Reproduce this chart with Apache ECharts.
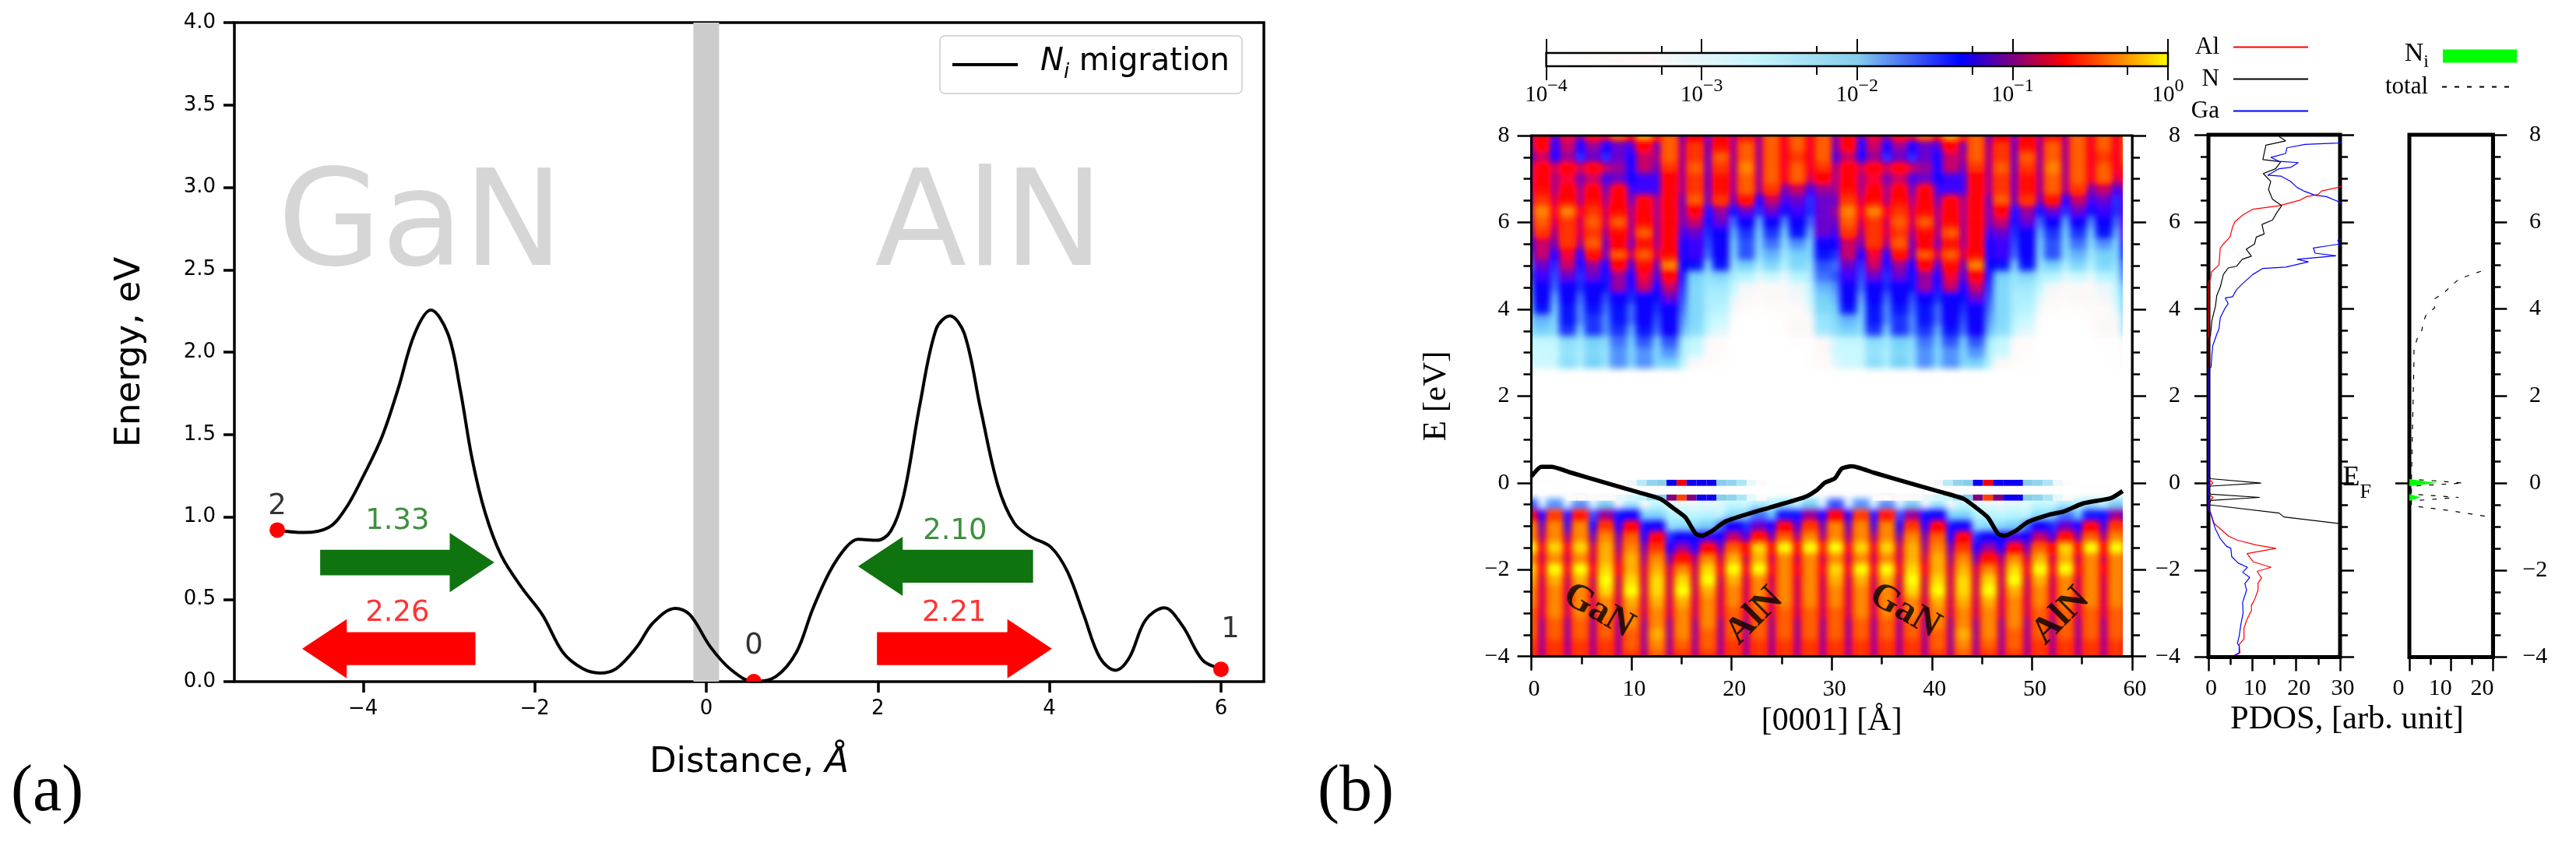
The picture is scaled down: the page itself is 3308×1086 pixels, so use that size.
<!DOCTYPE html>
<html>
<head>
<meta charset="utf-8">
<title>Ni migration and LDOS</title>
<script src="https://cdn.jsdelivr.net/npm/echarts@6/dist/echarts.min.js"></script>
<style>
  html, body { margin: 0; padding: 0; background: #fff; }
  #heatClip { position: absolute; left: 1966.5px; top: 174px; width: 759.5px; height: 668.7px; overflow: hidden; }
  #heat { position: absolute; left: -40px; top: -40px; width: 839.5px; height: 748.7px; filter: blur(4.5px) saturate(1.3); }
  #main { position: absolute; left: 0; top: 0; width: 3308px; height: 1086px; }
</style>
</head>
<body>
<div id="heatClip"><div id="heat"></div></div>
<div id="main"></div>
<script>
// panel (a): migration path
var migrationPath = [
  [-5, 0.92], [-4.69, 0.905], [-4.4, 0.936], [-4.21, 1.045], [-4.02, 1.224], [-3.78, 1.486], [-3.59, 1.78],
  [-3.4, 2.11], [-3.21, 2.255], [-3.01, 2.11], [-2.87, 1.78], [-2.73, 1.355], [-2.58, 1.03], [-2.39, 0.766],
  [-2.15, 0.57], [-1.91, 0.406], [-1.67, 0.177], [-1.44, 0.079], [-1.24, 0.052], [-1.05, 0.079], [-0.81, 0.21],
  [-0.62, 0.357], [-0.36, 0.445], [-0.19, 0.406], [0.05, 0.21], [0.29, 0.072], [0.555, 0], [0.81, 0.03],
  [1.05, 0.177], [1.24, 0.439], [1.44, 0.668], [1.63, 0.815], [1.77, 0.864], [1.99, 0.858], [2.15, 0.913],
  [2.3, 1.126], [2.49, 1.68], [2.68, 2.14], [2.84, 2.22], [3.01, 2.11], [3.2, 1.65], [3.4, 1.19], [3.59, 0.962],
  [3.78, 0.88], [4.02, 0.815], [4.21, 0.668], [4.4, 0.406], [4.59, 0.144], [4.77, 0.069], [4.93, 0.144],
  [5.12, 0.373], [5.34, 0.448], [5.55, 0.34], [5.79, 0.128], [6, 0.079]
];
var stablePoints = [[-5, 0.92], [0.555, 0], [6, 0.075]];
var pointLabels = [[-5, 1.064, '2'], [0.555, 0.217, '0'], [6.11, 0.317, '1']];
var interfaceBand = [-0.15, 0.15];
var distanceTicks = [-4, -2, 0, 2, 4, 6];
var materialLabels = [[-3.33, 2.74, 'GaN'], [3.3, 2.74, 'AlN']];

// tail x, tip x, y, body thickness
var greenArrows = [[-4.5, -2.47, 0.723, 0.155], [3.81, 1.77, 0.7, 0.2]];
var redArrows = [[-2.69, -4.71, 0.2, 0.2], [1.99, 4.03, 0.2, 0.2]];
var greenBarriers = [[-3.6, 0.97, '1.33'], [2.9, 0.912, '2.10']];
var redBarriers = [[-3.6, 0.416, '2.26'], [2.89, 0.416, '2.21']];

// panel (b): log10(LDOS) x 10, stripe and gap columns 1.275 A apart, one row per 0.25 eV
var ldosUpper = [ // 8.00 .. 2.75 eV, stripes on even columns
  [-7,-12,-8,-11,-7,-8,-4,-7,-2,-6,-4,-11,-7,-11,-7,-10,-6,-10,-4,-8,-4,-8,-4,-11],
  [-7,-13,-9,-13,-10,-13,-11,-12,-7,-11,-4,-10,-5,-11,-6,-10,-4,-10,-4,-8,-4,-8,-4,-11],
  [-9,-13,-10,-15,-11,-15,-11,-13,-9,-10,-4,-10,-5,-11,-4,-10,-4,-10,-4,-8,-5,-8,-4,-12],
  [-7,-9,-7,-9,-7,-9,-10,-13,-9,-11,-5,-10,-4,-11,-5,-10,-3,-10,-4,-8,-4,-8,-5,-10],
  [-7,-10,-8,-11,-9,-12,-11,-13,-12,-12,-7,-10,-5,-11,-6,-10,-4,-10,-4,-8,-4,-9,-7,-10],
  [-6,-10,-7,-10,-7,-11,-7,-12,-12,-12,-7,-10,-5,-11,-6,-10,-4,-10,-5,-11,-9,-12,-10,-10],
  [-5,-9,-6,-10,-6,-10,-7,-11,-7,-10,-7,-11,-4,-11,-5,-11,-6,-13,-9,-12,-11,-15,-11,-11],
  [-3,-8,-3,-8,-5,-9,-6,-10,-7,-10,-7,-11,-7,-14,-10,-14,-11,-15,-11,-14,-12,-15,-11,-10],
  [-4,-9,-5,-9,-4,-9,-4,-10,-6,-10,-7,-11,-9,-14,-11,-17,-13,-19,-13,-18,-13,-17,-11,-11],
  [-5,-10,-5,-9,-5,-10,-6,-10,-4,-10,-7,-12,-11,-15,-13,-19,-15,-20,-15,-20,-14,-19,-11,-12],
  [-9,-11,-5,-10,-4,-11,-7,-11,-6,-10,-7,-13,-12,-16,-13,-20,-16,-21,-17,-22,-18,-21,-13,-13],
  [-9,-13,-8,-13,-6,-11,-4,-9,-4,-9,-6,-13,-12,-17,-13,-21,-16,-22,-19,-24,-20,-21,-14,-15],
  [-11,-15,-9,-14,-10,-13,-7,-12,-6,-11,-3,-13,-14,-21,-14,-23,-20,-25,-21,-26,-21,-23,-16,-17],
  [-12,-16,-11,-15,-11,-14,-10,-13,-8,-12,-7,-14,-20,-23,-21,-25,-26,-30,-28,-31,-26,-25,-17,-16],
  [-13,-17,-13,-15,-13,-14,-10,-14,-9,-13,-9,-15,-21,-24,-24,-27,-32,-33,-33,-33,-31,-27,-19,-18],
  [-13,-19,-13,-17,-13,-16,-13,-15,-13,-14,-11,-16,-21,-25,-25,-30,-33,-35,-33,-33,-32,-28,-20,-19],
  [-14,-20,-14,-18,-14,-17,-14,-17,-13,-15,-13,-17,-21,-25,-26,-32,-36,-38,-36,-35,-34,-30,-21,-20],
  [-19,-21,-14,-18,-15,-18,-14,-17,-13,-16,-13,-18,-21,-26,-28,-35,-40,-40,-40,-36,-33,-33,-23,-21],
  [-20,-22,-15,-20,-15,-18,-15,-19,-14,-17,-13,-19,-22,-27,-30,-38,-40,-40,-40,-37,-33,-33,-24,-22],
  [-27,-27,-22,-24,-20,-22,-17,-20,-16,-20,-16,-24,-27,-33,-36,-40,-40,-40,-40,-40,-38,-38,-33,-28],
  [-28,-28,-23,-25,-21,-23,-18,-21,-18,-21,-18,-25,-28,-34,-36,-40,-40,-40,-40,-40,-40,-38,-33,-28],
  [-28,-28,-22,-25,-20,-23,-18,-21,-18,-21,-20,-26,-33,-36,-38,-40,-40,-40,-40,-40,-40,-38,-34,-30]
];
var ldosLower = [ // -0.50 .. -4.00 eV, stripes on odd columns
  [-30,-18,-30,-18,-30,-20,-33,-24,-33,-27,-30,-31,-31,-30,-30,-27,-28,-25,-26,-24,-27,-20,-30,-16],
  [-13,-5,-14,-6,-16,-10,-14,-13,-21,-21,-26,-26,-27,-26,-27,-22,-21,-17,-20,-14,-14,-10,-13,-7],
  [-11,-3,-12,-3,-13,-5,-13,-7,-14,-13,-23,-22,-22,-20,-17,-13,-15,-11,-13,-7,-12,-5,-11,-3],
  [-10,-3,-10,-3,-11,-3,-11,-4,-13,-7,-15,-13,-14,-12,-13,-9,-12,-6,-11,-4,-10,-3,-10,-3],
  [-8,-1,-8,-1,-9,-2,-10,-3,-11,-5,-13,-10,-13,-7,-11,-4,-7,-1,-7,0,-7,0,-6,0],
  [-9,-3,-9,-3,-9,-2,-9,-2,-10,-3,-11,-6,-10,-3,-9,-2,-9,-2,-9,-3,-9,-3,-9,-3],
  [-8,0,-8,0,-8,-1,-8,-2,-9,-2,-9,-3,-9,-1,-8,0,-8,0,-8,-3,-8,-3,-8,-1],
  [-9,-2,-9,-2,-9,0,-9,-1,-9,-1,-9,-1,-9,0,-9,-2,-9,-3,-9,-3,-9,-3,-9,-2],
  [-9,-3,-9,-3,-9,-1,-9,0,-9,-1,-9,0,-9,-2,-9,-3,-9,-3,-9,-3,-9,-3,-9,-3],
  [-9,-3,-9,-3,-9,-3,-9,-2,-9,-2,-9,-2,-9,-3,-9,-3,-9,-3,-9,-3,-9,-3,-9,-3],
  [-9,-3,-9,-3,-9,-3,-9,-3,-9,-3,-9,-3,-9,-3,-9,-4,-9,-4,-9,-4,-9,-4,-9,-4],
  [-10,-4,-10,-4,-10,-4,-10,-3,-10,-3,-10,-3,-10,-3,-10,-4,-10,-4,-10,-4,-10,-4,-10,-4],
  [-10,-4,-10,-4,-10,-4,-10,-4,-10,-2,-10,-3,-10,-4,-10,-4,-10,-4,-10,-4,-10,-4,-10,-4],
  [-10,-5,-10,-5,-10,-5,-10,-4,-10,-3,-10,-4,-10,-4,-10,-5,-10,-5,-10,-5,-10,-5,-10,-5],
  [-10,-5,-10,-5,-10,-5,-10,-5,-10,-4,-10,-5,-10,-5,-10,-5,-10,-5,-10,-5,-10,-5,-10,-5]
];
var gapRowCount = 12;
var ldosPeriod = 30.6;

// defect states in the gap: position (A), log10(LDOS) x 10
var defectTop = [[9,-35],[10,-32],[11,-25],[12,-21],[13,-20],[14,-13],[15,-7],[16,-13],[17,-13],[18,-13],[19,-20],[20,-21],[21,-24],[22,-31],[23,-35]];
var defectLow = [[4,-35],[5,-35],[6,-34],[7,-34],[8,-33],[9,-30],[10,-28],[11,-27],[12,-23],[13,-20],[14,-10],[15,-5],[16,-10],[17,-13],[18,-13],[19,-20],[20,-21],[21,-24],[22,-30],[23,-35]];

var bandEdge = [
  [0, 0.147], [1, 0.37], [2, 0.37], [3.97, 0.234], [7.44, 0], [10.4, -0.2], [12.9, -0.37], [14.1, -0.57], [15.4, -0.8],
  [16.4, -1.17], [17, -1.22], [18.1, -1.1], [19.3, -0.9], [21.3, -0.74], [23.8, -0.57], [27.3, -0.33], [28.5, -0.17],
  [29.3, 0], [30.3, 0.1], [31, 0.33], [32, 0.38], [34.2, 0.234], [37.7, 0], [40.7, -0.2], [43.2, -0.37], [44.4, -0.57],
  [45.6, -0.8], [46.6, -1.17], [47.2, -1.22], [48.4, -1.1], [49.6, -0.9], [51.6, -0.74], [53.15, -0.66], [55.1, -0.475],
  [57.9, -0.35], [59.05, -0.19]
];
var heatLabels = [[6.7, -2.95, 'GaN', -30], [22.3, -3.07, 'AlN', 45], [37.3, -2.95, 'GaN', -30], [52.9, -3.07, 'AlN', 45]];

var colorbarMinor = [-3.26, -2.26, -1.26, -0.26];
var colorbarPalette = ['#ffffff', '#fff8f8', '#c8f5fd', '#87ceeb', '#0000ff', '#ff0000', '#ffff00'];

// PDOS curves: [value, energy]
var pdosGa = [
  [5.9, -3.96], [7, -3.9], [7, -3.74], [6.6, -3.68], [7, -3.52], [7.4, -3.24], [7.9, -2.99], [7.8, -2.74], [8.7, -2.46],
  [8.3, -2.31], [9.4, -2.17], [7.8, -2.05], [8.9, -1.935], [6.8, -1.84], [5.3, -1.69], [5.1, -1.5], [4.1, -1.45], [2.7, -1.28],
  [1.6, -1.06], [0.5, -0.69], [0, -0.6], [0, 2.6],
  [0.6, 2.66], [0.8, 2.97], [1, 3.16], [1.9, 3.42], [2.4, 3.54], [2.7, 3.8], [3.8, 4.02], [4.5, 4.12], [3.8, 4.25], [5.5, 4.28],
  [6.4, 4.44], [8.3, 4.63], [10.1, 4.79], [12.4, 4.93], [17.6, 4.96], [22.8, 5.08], [20.2, 5.14], [29.1, 5.22], [24.3, 5.28],
  [23.9, 5.4], [27.3, 5.45], [29.9, 5.49], [29.5, 5.58], [30.5, 5.62], [31, 5.7], [31, 6.4], [29.5, 6.47], [26.9, 6.58], [24.3, 6.61],
  [21.7, 6.71], [20.2, 6.79], [18.7, 6.93], [16.5, 7.05], [13.5, 7.07], [16.1, 7.22], [18.7, 7.25], [20.5, 7.36], [16.1, 7.39],
  [14.2, 7.48], [17.6, 7.57], [17.9, 7.7], [22, 7.78], [29.5, 7.81], [31, 7.85]
];
var pdosAl = [
  [6.1, -3.96], [7.2, -3.9], [7, -3.71], [8.1, -3.58], [8.1, -3.34], [8.7, -3.15], [9.8, -2.93], [9.8, -2.81], [10.5, -2.68],
  [11.3, -2.46], [11.3, -2.3], [12.1, -2.18], [11.1, -2.03], [14.3, -1.935], [10.2, -1.81], [8.8, -1.62], [15.4, -1.5], [10.9, -1.425],
  [6.5, -1.31], [4.6, -1.22], [1.3, -0.93], [0.5, -0.69], [0, -0.6], [0, -0.42], [0.5, -0.38], [1.1, -0.336], [0.5, -0.29], [0, -0.24],
  [0, -0.06], [0.5, -0.044], [1, 0], [0.5, 0.056], [0, 0.08], [0, 4.6],
  [0.5, 4.69], [0.7, 4.85], [2.4, 5.01], [2.7, 5.4], [3.4, 5.49], [4.9, 5.65], [5.5, 5.88], [6, 6], [7.9, 6.16], [10.1, 6.29],
  [16.1, 6.37], [20.9, 6.5], [22.4, 6.58], [25, 6.63], [25.8, 6.71], [29.5, 6.79], [30.5, 6.82]
];
var pdosN = [
  [31, -0.95], [29.9, -0.93], [17.2, -0.78], [16.1, -0.69], [0.15, -0.5], [0.5, -0.4], [11.7, -0.33], [0.5, -0.255], [0, -0.2], [0, -0.09],
  [0.5, -0.07], [12, 0], [0.5, 0.1], [0, 0.15], [0, 3.3],
  [0.45, 3.38], [0.8, 3.74], [1.6, 4.06], [1.9, 4.31], [2.7, 4.5], [3.4, 4.79], [4.5, 4.94], [6.4, 4.98], [7.7, 5.14], [9.8, 5.21],
  [8.6, 5.37], [10.5, 5.49], [10.9, 5.65], [12.7, 5.72], [12.2, 5.94], [14.6, 6.04], [15.7, 6.23], [16.7, 6.37], [14.6, 6.52], [13.7, 6.74],
  [14.2, 6.93], [12.5, 7.11], [15.3, 7.22], [16.5, 7.38], [12.4, 7.43], [13.1, 7.76], [17.6, 7.86], [16.1, 7.96]
];
var pdosTotal = [
  [21, -0.8], [19.2, -0.78], [9.5, -0.63], [0.5, -0.52], [0.5, -0.41], [11.8, -0.33], [0.5, -0.255], [0.5, -0.07], [13, 0], [0.5, 0.09],
  [1.1, 2.79], [1.1, 3.1], [1.9, 3.32], [3, 3.51], [3.3, 3.7], [4, 3.86], [6, 4.02], [6, 4.23], [8.3, 4.37], [9.9, 4.52], [11.8, 4.68],
  [14.2, 4.77], [17.3, 4.87]
];
var pdosNiPeaks = [[0, 0.09, 6.7, 0, 0, -0.07], [0, -0.255, 2.7, -0.33, 0, -0.41]];

var SANS = "'DejaVu Sans', sans-serif";
var SERIF = "'Liberation Serif', serif";

function minusSign(v) { return String(v).replace('-', '\u2212'); }

function logColor(v) {
  return echarts.color.lerp((v + 40) / 40, colorbarPalette);
}

// ---- blurred LDOS map, behind the axes ----
var upperRowCount = ldosUpper.length;
var heatRows = ldosUpper.slice();
for (var r = 0; r < gapRowCount; r++) {
  heatRows.push(ldosUpper[0].map(function () { return -40; }));
}
heatRows = heatRows.concat(ldosLower);
// first and last rows repeat past the clip so the blur does not fade at the frame
heatRows = [heatRows[0]].concat(heatRows, [heatRows[heatRows.length - 1]]);

// six drawn cells per stripe: the stripe column takes four of them, the gap column two
function sourceColumn(n, isUpper) {
  var p = ((n % 6) + 6) % 6;
  var m = Math.floor(n / 6);
  var col;
  if (isUpper) {
    col = p === 3 || p === 4 ? 2 * m + 1 : (p === 5 ? 2 * m + 2 : 2 * m);
  } else {
    col = p < 2 ? 2 * m : 2 * m + 1;
  }
  return ((col % 24) + 24) % 24;
}

var heatData = [];
var heatCols = [];
for (var n = -6; n < 144; n++) { heatCols.push(String(n)); }
heatRows.forEach(function (row, j) {
  var isUpper = j <= upperRowCount + 6;
  for (var n = -6; n < 144; n++) {
    heatData.push([n + 6, j, row[sourceColumn(n, isUpper)]]);
  }
});

var heat = echarts.init(document.getElementById('heat'), null, { renderer: 'canvas' });
heat.setOption({
  animation: false,
  grid: { left: 15.1, top: 19, width: 819.8, height: 710.2 },
  xAxis: { type: 'category', data: heatCols, show: false },
  yAxis: { type: 'category', inverse: true, data: heatRows.map(function (row, j) { return String(j); }), show: false },
  visualMap: { show: false, min: -40, max: 0, dimension: 2, inRange: { color: colorbarPalette } },
  series: [{ type: 'heatmap', data: heatData, progressive: 0, itemStyle: { borderWidth: 0 } }]
});

// ---- axes, curves and text ----
function renderArrow(params, api) {
  var tail = api.value(0), tip = api.value(1), y = api.value(2), body = api.value(3) / 2;
  var dir = tip > tail ? 1 : -1;
  var neck = tip - dir * 0.52;
  var head = 0.18;
  var pts = [[tail, y + body], [neck, y + body], [neck, y + head], [tip, y], [neck, y - head], [neck, y - body], [tail, y - body]];
  return { type: 'polygon', shape: { points: pts.map(function (p) { return api.coord(p); }) }, style: api.style() };
}

function renderDot(params, api) {
  var c = api.coord([api.value(0), api.value(1)]);
  return { type: 'circle', shape: { cx: c[0], cy: c[1], r: 10 }, style: api.style() };
}

function renderDefect(params, api) {
  var x = api.value(0), e = api.value(1);
  var a = api.coord([x - 0.5, e + 0.07]), b = api.coord([x + 0.5, e - 0.07]);
  return { type: 'rect', shape: { x: a[0], y: a[1], width: b[0] - a[0], height: b[1] - a[1] }, style: { fill: logColor(api.value(2)) } };
}

function renderPeak(params, api) {
  var pts = [[api.value(0), api.value(1)], [api.value(2), api.value(3)], [api.value(4), api.value(5)]];
  return { type: 'polygon', shape: { points: pts.map(function (p) { return api.coord(p); }) }, style: api.style() };
}

var defectData = [];
[[defectTop, 0], [defectLow, -0.34]].forEach(function (rowDef) {
  rowDef[0].forEach(function (d) {
    defectData.push([d[0], rowDef[1], d[1]]);
    defectData.push([d[0] + ldosPeriod, rowDef[1], d[1]]);
  });
});

function textSeries(data, xi, yi, font, size, color, weight) {
  return {
    type: 'scatter', xAxisIndex: xi, yAxisIndex: yi, symbolSize: 0, data: data, silent: true, z: 6,
    label: {
      show: true, position: 'inside', color: color, fontFamily: font, fontSize: size, fontWeight: weight || 'normal',
      formatter: function (p) { return p.value[2]; }
    }
  };
}

function rotatedText(item) {
  return { value: item, label: { rotate: item[3] } };
}

var tickLine = { color: '#000', width: 3.5 };
var bTicks = { show: true, length: 18, lineStyle: { color: '#000', width: 2.5 } };
var serifLabel = { color: '#000', fontFamily: SERIF, fontSize: 30 };
function blackLine(width) { return { show: true, onZero: false, lineStyle: { color: '#000', width: width } }; }
var hiddenLine = { show: false, onZero: false };

var xAxes = [
  { gridIndex: 0, type: 'value', min: -5.5, max: 6.5, splitLine: { show: false },
    axisLine: hiddenLine,
    axisTick: { show: true, length: 14, lineStyle: tickLine, customValues: distanceTicks },
    axisLabel: { color: '#000', fontFamily: SANS, fontSize: 26, margin: 22, customValues: distanceTicks, formatter: minusSign },
    name: '{t|Distance, }{i|\u00c5}', nameLocation: 'middle', nameGap: 82,
    nameTextStyle: { rich: { t: { fontFamily: SANS, fontSize: 45, color: '#000' }, i: { fontFamily: SANS, fontSize: 45, fontStyle: 'italic', color: '#000' } } } },
  { gridIndex: 1, type: 'value', min: 0, max: 60, interval: 10, splitLine: { show: false },
    axisLine: blackLine(2.5), axisTick: bTicks,
    minorTick: { show: true, splitNumber: 2, length: 10, lineStyle: { color: '#000', width: 2.5 } },
    axisLabel: Object.assign({ margin: 27, padding: [0, 0, 0, 7] }, serifLabel),
    name: '[0001] [\u00c5]', nameLocation: 'middle', nameGap: 61,
    nameTextStyle: { fontFamily: SERIF, fontSize: 42, color: '#000' } },
  { gridIndex: 2, type: 'value', min: 0, max: 30, interval: 10, splitLine: { show: false },
    axisLine: blackLine(4), axisTick: bTicks,
    minorTick: { show: true, splitNumber: 2, length: 10, lineStyle: { color: '#000', width: 2.5 } },
    axisLabel: Object.assign({ margin: 26, padding: [0, 0, 0, 7] }, serifLabel) },
  { gridIndex: 3, type: 'value', min: 0, max: 20, interval: 10, splitLine: { show: false },
    axisLine: blackLine(4), axisTick: bTicks,
    minorTick: { show: true, splitNumber: 2, length: 10, lineStyle: { color: '#000', width: 2.5 } },
    axisLabel: Object.assign({ margin: 26, padding: [0, 28, 0, 0] }, serifLabel) },
  // colorbar, log10 of the LDOS
  { gridIndex: 4, type: 'value', position: 'bottom', min: -4, max: 0, interval: 1, splitLine: { show: false },
    axisLine: hiddenLine, axisTick: { show: true, length: 18, lineStyle: { color: '#000', width: 2 } },
    axisLabel: { margin: 14, formatter: function (v) { return '{b|10}{s|' + minusSign(v) + '}'; },
      rich: { b: { fontFamily: SERIF, fontSize: 29, lineHeight: 38, color: '#000', verticalAlign: 'bottom' },
              s: { fontFamily: SERIF, fontSize: 24, lineHeight: 24, color: '#000', verticalAlign: 'top' } } } },
  { gridIndex: 4, type: 'value', position: 'top', min: -4, max: 0, interval: 1, splitLine: { show: false },
    axisLine: hiddenLine, axisLabel: { show: false }, axisTick: { show: true, length: 18, lineStyle: { color: '#000', width: 2 } } },
  { gridIndex: 4, type: 'value', position: 'bottom', min: -4, max: 0, splitLine: { show: false },
    axisLine: hiddenLine, axisLabel: { show: false },
    axisTick: { show: true, length: 11, customValues: colorbarMinor, lineStyle: { color: '#000', width: 2 } } },
  { gridIndex: 4, type: 'value', position: 'top', min: -4, max: 0, splitLine: { show: false },
    axisLine: hiddenLine, axisLabel: { show: false },
    axisTick: { show: true, length: 9, customValues: colorbarMinor, lineStyle: { color: '#000', width: 2 } } }
];

function energyAxis(gridIndex, position, lineWidth, label, extra) {
  return Object.assign({
    gridIndex: gridIndex, type: 'value', position: position, min: -4, max: 8, interval: 2, splitLine: { show: false },
    axisLine: blackLine(lineWidth), axisTick: bTicks,
    minorTick: { show: true, splitNumber: 4, length: 10, lineStyle: { color: '#000', width: 2.5 } },
    axisLabel: label
  }, extra || {});
}

var noLabel = { show: false };
var yAxes = [
  { gridIndex: 0, type: 'value', min: 0, max: 4, interval: 0.5, splitLine: { show: false },
    axisLine: hiddenLine, axisTick: { show: true, length: 14, lineStyle: tickLine },
    axisLabel: { color: '#000', fontFamily: SANS, fontSize: 26, margin: 24, formatter: function (v) { return v.toFixed(1); } },
    name: 'Energy, eV', nameLocation: 'middle', nameGap: 111,
    nameTextStyle: { fontFamily: SANS, fontSize: 45, color: '#000' } },
  energyAxis(1, 'left', 2.5, Object.assign({ margin: 28, formatter: minusSign }, serifLabel), {
    name: 'E [eV]', nameLocation: 'middle', nameGap: 100,
    nameTextStyle: { fontFamily: SERIF, fontSize: 43, color: '#000' } }),
  energyAxis(1, 'right', 2.5, Object.assign({ margin: 62, align: 'right', formatter: minusSign }, serifLabel)),
  energyAxis(2, 'left', 4, noLabel),
  energyAxis(2, 'right', 4, noLabel),
  energyAxis(3, 'right', 4, Object.assign({ margin: 54, align: 'center', formatter: minusSign }, serifLabel)),
  { gridIndex: 3, type: 'value', position: 'left', min: -4, max: 8, splitLine: { show: false },
    axisLine: blackLine(4),
    axisTick: { show: true, length: 18, customValues: [0], lineStyle: { color: '#000', width: 2.5 } },
    axisLabel: { customValues: [0], margin: 49, formatter: function () { return '{e|E}{f|F}'; },
      rich: { e: { fontFamily: SERIF, fontSize: 36, lineHeight: 50, color: '#000', verticalAlign: 'top' },
              f: { fontFamily: SERIF, fontSize: 26, lineHeight: 26, color: '#000', verticalAlign: 'bottom' } } } },
  { gridIndex: 4, type: 'value', min: 0, max: 1, show: false }
];

var barGradient = new echarts.graphic.LinearGradient(0, 0, 1, 0, colorbarPalette.map(function (col, i) {
  return { offset: i / (colorbarPalette.length - 1), color: col };
}));

var frame = function (left, top, width, height, borderWidth, bg) {
  return { show: true, left: left, top: top, width: width, height: height, borderColor: '#000', borderWidth: borderWidth, backgroundColor: bg || 'transparent' };
};

// legend text with a fixed blank before the key line
function legendRich(size) {
  return { rich: {
    t: { fontFamily: SERIF, fontSize: size, color: '#000' },
    g: { fontSize: 10, width: 13 }
  } };
}
function legendName(name) { return '{t|' + name + '}{g|\u00a0}'; }

var option = {
  animation: false,
  textStyle: { fontFamily: SANS, color: '#000' },
  grid: [
    frame(301, 29, 1322, 846, 3.5),
    frame(1966.5, 174, 771.5, 668.7, 3),
    frame(2836, 173, 169, 670.6, 5),
    frame(3094, 173, 107.4, 670.6, 5),
    frame(1985.6, 68, 798.4, 17, 2.5, barGradient)
  ],
  xAxis: xAxes,
  yAxis: yAxes,
  legend: [
    { left: 1207, top: 46, orient: 'vertical', data: ['Ni migration'], itemWidth: 84, itemHeight: 20,
      padding: [14, 16, 14, 14], borderColor: '#ccc', borderWidth: 1.5, borderRadius: 6, backgroundColor: '#fff',
      itemStyle: { opacity: 0 }, lineStyle: { width: 4 },
      formatter: function () { return '{n|N}{s|i}{r| migration}'; },
      textStyle: { rich: {
        n: { fontFamily: SANS, fontSize: 40, fontStyle: 'italic', color: '#000', lineHeight: 46, padding: [0, 0, 0, 24], verticalAlign: 'top' },
        s: { fontFamily: SANS, fontSize: 26, fontStyle: 'italic', color: '#000', lineHeight: 26, verticalAlign: 'bottom' },
        r: { fontFamily: SANS, fontSize: 40, color: '#000', lineHeight: 46, verticalAlign: 'top' } } } },
    { right: 338, top: 40, orient: 'vertical', align: 'right', data: ['Al', 'N', 'Ga'], itemWidth: 96, itemHeight: 30, itemGap: 10,
      itemStyle: { opacity: 0 }, formatter: legendName, textStyle: legendRich(31) },
    { right: 71, top: 47, orient: 'vertical', align: 'right', data: [{ name: 'Ni', icon: 'rect' }], itemWidth: 95, itemHeight: 17,
      formatter: function () { return '{n|N}{s|i}{g|\u00a0}'; },
      textStyle: { rich: {
        n: { fontFamily: SERIF, fontSize: 34, color: '#000', lineHeight: 40, verticalAlign: 'top' },
        s: { fontFamily: SERIF, fontSize: 24, color: '#000', lineHeight: 24, verticalAlign: 'bottom' },
        g: { fontSize: 10, width: 13 } } } },
    { right: 72, top: 91, orient: 'vertical', align: 'right', data: ['total'], itemWidth: 94, itemHeight: 30,
      itemStyle: { opacity: 0 }, formatter: legendName, textStyle: legendRich(31) }
  ],
  series: [
    { name: 'Ni migration', type: 'line', xAxisIndex: 0, yAxisIndex: 0, data: migrationPath, symbol: 'none', smooth: 0.35,
      lineStyle: { color: '#000', width: 4 }, itemStyle: { color: '#000' }, z: 4,
      markArea: { silent: true, itemStyle: { color: '#cccccc' }, data: [[{ xAxis: interfaceBand[0] }, { xAxis: interfaceBand[1] }]] } },
    { type: 'custom', xAxisIndex: 0, yAxisIndex: 0, data: stablePoints, renderItem: renderDot, encode: { x: 0, y: 1 }, clip: true, itemStyle: { color: '#ff0000' }, z: 5 },
    { type: 'custom', xAxisIndex: 0, yAxisIndex: 0, data: greenArrows, renderItem: renderArrow, encode: { x: [0, 1], y: 2 }, itemStyle: { color: '#0f730f' }, z: 3 },
    { type: 'custom', xAxisIndex: 0, yAxisIndex: 0, data: redArrows, renderItem: renderArrow, encode: { x: [0, 1], y: 2 }, itemStyle: { color: '#ff0000' }, z: 3 },
    textSeries(materialLabels, 0, 0, SANS, 172, '#cccccc'),
    textSeries(pointLabels, 0, 0, SANS, 37, '#000'),
    textSeries(greenBarriers, 0, 0, SANS, 37, '#0f730f'),
    textSeries(redBarriers, 0, 0, SANS, 37, '#ff0000'),

    { type: 'custom', xAxisIndex: 1, yAxisIndex: 1, data: defectData, renderItem: renderDefect, encode: { x: 0, y: 1 }, z: 2 },
    { type: 'line', xAxisIndex: 1, yAxisIndex: 1, data: bandEdge, symbol: 'none', smooth: 0.2, lineStyle: { color: '#000', width: 5.5 }, z: 4 },
    (function () {
      var s = textSeries(heatLabels.map(rotatedText), 1, 1, SERIF, 48, '#000', 'bold');
      s.label.formatter = function (p) { return heatLabels[p.dataIndex][2]; };
      return s;
    })(),

    { name: 'Al', type: 'line', xAxisIndex: 2, yAxisIndex: 3, data: pdosAl, symbol: 'none', lineStyle: { color: '#ff0000', width: 1.2 }, itemStyle: { color: '#ff0000' } },
    { name: 'N', type: 'line', xAxisIndex: 2, yAxisIndex: 3, data: pdosN, symbol: 'none', lineStyle: { color: '#000', width: 1.2 }, itemStyle: { color: '#000' } },
    { name: 'Ga', type: 'line', xAxisIndex: 2, yAxisIndex: 3, data: pdosGa, symbol: 'none', lineStyle: { color: '#0000ff', width: 1.2 }, itemStyle: { color: '#0000ff' } },

    { name: 'Ni', type: 'custom', xAxisIndex: 3, yAxisIndex: 5, data: pdosNiPeaks, renderItem: renderPeak, encode: { x: [0, 2, 4], y: [1, 3, 5] }, itemStyle: { color: '#00ff00' } },
    { name: 'total', type: 'line', xAxisIndex: 3, yAxisIndex: 5, data: pdosTotal, symbol: 'none', lineStyle: { color: '#000', width: 1.2, type: [6, 10] }, itemStyle: { color: '#000' } }
  ],
  graphic: [
    { type: 'text', left: 14, top: 976, style: { text: '(a)', font: '84px ' + SERIF, fill: '#000' } },
    { type: 'text', left: 1692, top: 976, style: { text: '(b)', font: '84px ' + SERIF, fill: '#000' } },
    { type: 'text', left: 2864, top: 902, style: { text: 'PDOS, [arb. unit]', font: '42.5px ' + SERIF, fill: '#000' } }
  ]
};

var chart = echarts.init(document.getElementById('main'), null, { renderer: 'canvas' });
chart.setOption(option);
</script>
</body>
</html>
